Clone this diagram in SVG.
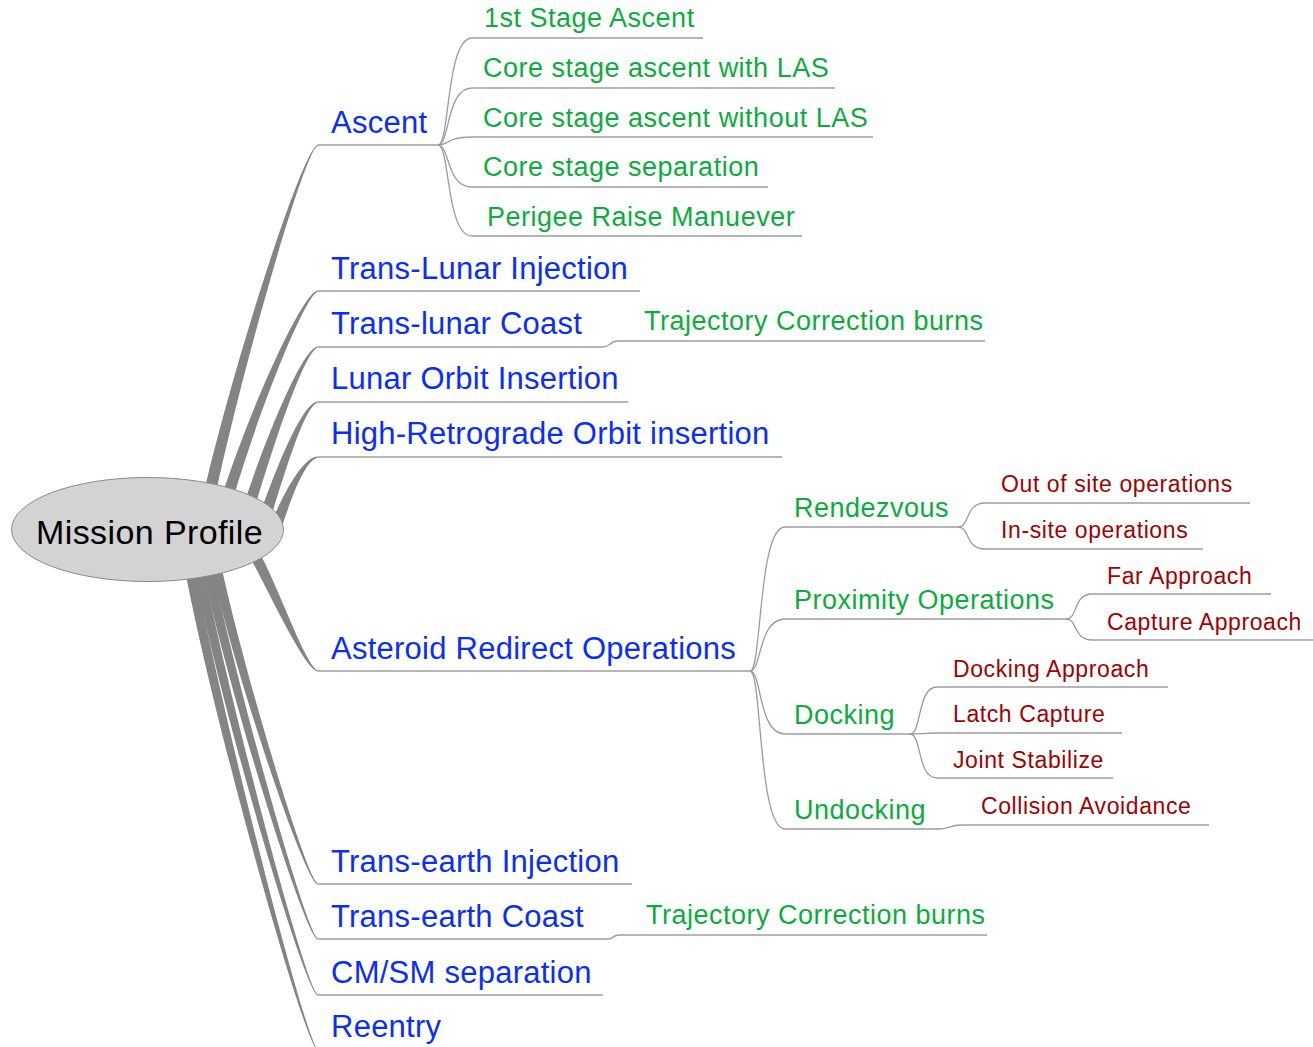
<svg xmlns="http://www.w3.org/2000/svg" width="1313" height="1047" viewBox="0 0 1313 1047">
<style>
text{font-family:"Liberation Sans",Arial,sans-serif}
.l0{font-size:34px;fill:#000;letter-spacing:0.4px}
.l1{font-size:31px;fill:#0a2dff;letter-spacing:0.25px}
.l2{font-size:27px;fill:#0aad3c;letter-spacing:0.5px}
.l3{font-size:23px;fill:#a30000;letter-spacing:0.6px}
.ul{stroke:#9c9c9c;stroke-width:1.3;fill:none}
.cn{stroke:#9c9c9c;stroke-width:1.3;fill:none}
.rb{fill:#848484;stroke:none}
</style>
<rect width="1313" height="1047" fill="#fff"/>
<g id="connectors">
<g id="ribbons">
<path class="rb" d="M 204 492 C 235 359, 303 147.3, 318 144.4 L 318 145.6 C 305 148.7, 245 359, 216 492 Z"/>
<path class="rb" d="M 222 496 C 248 414, 303 290.3, 318 290.4 L 318 291.6 C 305 294.7, 258 414, 234 496 Z"/>
<path class="rb" d="M 244 504 C 265 440, 303 346.3, 318 346.4 L 318 347.6 C 305 350.7, 275 440, 256 504 Z"/>
<path class="rb" d="M 260 514 C 277 466, 303 401.3, 318 401.4 L 318 402.6 C 305 405.7, 287 466, 272 514 Z"/>
<path class="rb" d="M 270 526 C 283 494, 303 456.3, 318 456.4 L 318 457.6 C 305 460.7, 293 494, 282 526 Z"/>
<path class="rb" d="M 246 550 C 266 585, 304 669.3, 318 671.6 L 318 670.4 C 306 667.3, 278 585, 258 550 Z"/>
<path class="rb" d="M 211 565 C 235 675, 305 882.7, 318 884.6 L 318 883.4 C 307 881.3, 245 675, 221 565 Z"/>
<path class="rb" d="M 202 565 C 228 690, 305 937.7, 318 939.6 L 318 938.4 C 307 936.3, 238 690, 212 565 Z"/>
<path class="rb" d="M 193 565 C 220 705, 305 993.7, 318 995.6 L 318 994.4 C 307 992.3, 230 705, 203 565 Z"/>
<path class="rb" d="M 184 565 C 213 720, 305 1048.7, 318 1050.6 L 318 1049.4 C 307 1047.3, 223 720, 194 565 Z"/>
</g>
<path class="cn" d="M 438 145 C 450 145, 446 38, 472 38"/>
<path class="cn" d="M 438 145 C 450 145, 446 88, 472 88"/>
<path class="cn" d="M 438 145 C 450 145, 446 137, 472 137"/>
<path class="cn" d="M 438 145 C 450 145, 446 187, 472 187"/>
<path class="cn" d="M 438 145 C 450 145, 446 236, 472 236"/>
<path class="cn" d="M 603 347 C 611 347, 609 341, 618 341"/>
<path class="cn" d="M 608 939 C 615 939, 611 935, 620 935"/>
<path class="cn" d="M 750 671 C 762 671, 758 527, 785 527"/>
<path class="cn" d="M 750 671 C 762 671, 758 619, 785 619"/>
<path class="cn" d="M 750 671 C 762 671, 758 734, 785 734"/>
<path class="cn" d="M 750 671 C 762 671, 758 829, 785 829"/>
<path class="cn" d="M 958 527 C 970 527, 965 503, 985 503"/>
<path class="cn" d="M 958 527 C 970 527, 965 549, 985 549"/>
<path class="cn" d="M 1066 619 C 1078 619, 1073 594, 1092 594"/>
<path class="cn" d="M 1066 619 C 1078 619, 1073 640, 1092 640"/>
<path class="cn" d="M 910 734 C 922 734, 917 687, 937 687"/>
<path class="cn" d="M 910 734 C 920 734, 925 733, 937 733"/>
<path class="cn" d="M 910 734 C 922 734, 917 778, 937 778"/>
<path class="cn" d="M 940 829 C 948 829, 950 825, 962 825"/>
</g>
<g id="root">
<ellipse cx="147.5" cy="529.5" rx="136" ry="52" fill="#d3d3d3" stroke="#8a8a8a" stroke-width="1"/>
<text class="l0" x="36" y="544">Mission Profile</text>
</g>
<g id="ascent"><line class="ul" x1="318" y1="145" x2="438" y2="145"/><text class="l1" x="331" y="133">Ascent</text></g>
<g id="tli"><line class="ul" x1="318" y1="291" x2="640" y2="291"/><text class="l1" x="331" y="279">Trans-Lunar Injection</text></g>
<g id="tlc"><line class="ul" x1="318" y1="347" x2="603" y2="347"/><text class="l1" x="331" y="334">Trans-lunar Coast</text></g>
<g id="loi"><line class="ul" x1="318" y1="402" x2="628" y2="402"/><text class="l1" x="331" y="389">Lunar Orbit Insertion</text></g>
<g id="hro"><line class="ul" x1="318" y1="457" x2="782" y2="457"/><text class="l1" x="331" y="444">High-Retrograde Orbit insertion</text></g>
<g id="aro"><line class="ul" x1="318" y1="671" x2="750" y2="671"/><text class="l1" x="331" y="659">Asteroid Redirect Operations</text></g>
<g id="tei"><line class="ul" x1="318" y1="884" x2="632" y2="884"/><text class="l1" x="331" y="872">Trans-earth Injection</text></g>
<g id="tec"><line class="ul" x1="318" y1="939" x2="608" y2="939"/><text class="l1" x="331" y="927">Trans-earth Coast</text></g>
<g id="cmsm"><line class="ul" x1="318" y1="995" x2="603" y2="995"/><text class="l1" x="331" y="983">CM/SM separation</text></g>
<g id="reentry"><line class="ul" x1="318" y1="1050" x2="452" y2="1050"/><text class="l1" x="331" y="1037">Reentry</text></g>

<g id="a1"><line class="ul" x1="472" y1="38" x2="703" y2="38"/><text class="l2" x="484" y="27">1st Stage Ascent</text></g>
<g id="a2"><line class="ul" x1="472" y1="88" x2="835" y2="88"/><text class="l2" x="483" y="77">Core stage ascent with LAS</text></g>
<g id="a3"><line class="ul" x1="472" y1="137" x2="873" y2="137"/><text class="l2" x="483" y="127">Core stage ascent without LAS</text></g>
<g id="a4"><line class="ul" x1="472" y1="187" x2="768" y2="187"/><text class="l2" x="483" y="176">Core stage separation</text></g>
<g id="a5"><line class="ul" x1="472" y1="236" x2="802" y2="236"/><text class="l2" x="487" y="226">Perigee Raise Manuever</text></g>
<g id="tlc1"><line class="ul" x1="618" y1="341" x2="985" y2="341"/><text class="l2" x="644" y="330">Trajectory Correction burns</text></g>
<g id="tec1"><line class="ul" x1="620" y1="935" x2="987" y2="935"/><text class="l2" x="646" y="924">Trajectory Correction burns</text></g>

<g id="rendezvous"><line class="ul" x1="785" y1="527" x2="958" y2="527"/><text class="l2" x="794" y="517">Rendezvous</text></g>
<g id="proximity"><line class="ul" x1="785" y1="619" x2="1066" y2="619"/><text class="l2" x="794" y="609">Proximity Operations</text></g>
<g id="docking"><line class="ul" x1="785" y1="734" x2="910" y2="734"/><text class="l2" x="794" y="724">Docking</text></g>
<g id="undocking"><line class="ul" x1="785" y1="829" x2="940" y2="829"/><text class="l2" x="794" y="819">Undocking</text></g>

<g id="r1"><line class="ul" x1="985" y1="503" x2="1250" y2="503"/><text class="l3" x="1001" y="492">Out of site operations</text></g>
<g id="r2"><line class="ul" x1="985" y1="549" x2="1203" y2="549"/><text class="l3" x="1001" y="538">In-site operations</text></g>
<g id="p1"><line class="ul" x1="1092" y1="594" x2="1271" y2="594"/><text class="l3" x="1107" y="584">Far Approach</text></g>
<g id="p2"><line class="ul" x1="1092" y1="640" x2="1313" y2="640"/><text class="l3" x="1107" y="630">Capture Approach</text></g>
<g id="d1"><line class="ul" x1="937" y1="687" x2="1168" y2="687"/><text class="l3" x="953" y="677">Docking Approach</text></g>
<g id="d2"><line class="ul" x1="937" y1="733" x2="1122" y2="733"/><text class="l3" x="953" y="722">Latch Capture</text></g>
<g id="d3"><line class="ul" x1="937" y1="778" x2="1113" y2="778"/><text class="l3" x="953" y="768">Joint Stabilize</text></g>
<g id="u1"><line class="ul" x1="962" y1="825" x2="1209" y2="825"/><text class="l3" x="981" y="814">Collision Avoidance</text></g>
</svg>
